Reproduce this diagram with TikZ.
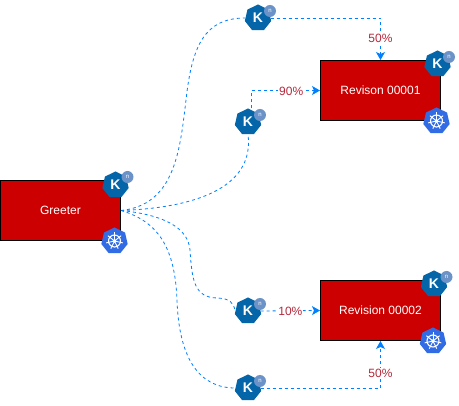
\documentclass[tikz,border=0pt]{standalone}
\usepackage{fontspec}
\setmainfont{Liberation Sans}
\usetikzlibrary{shapes.geometric,arrows.meta}
\definecolor{boxred}{HTML}{CC0000}
\definecolor{knblue}{HTML}{0465A9}
\definecolor{knlight}{HTML}{6C93C7}
\definecolor{kublue}{HTML}{326CE5}
\definecolor{flow}{HTML}{007FFF}
\definecolor{pct}{HTML}{B5293C}
\tikzset{
  svc/.style={draw=black,line width=1pt,fill=boxred,text=white,font=\fontsize{12}{14}\selectfont,minimum width=120pt,minimum height=60pt,inner sep=0pt},
  knicon/.style={regular polygon,regular polygon sides=7,fill=knblue,text=white,minimum size=27pt,inner sep=0pt,font=\fontsize{14}{14}\selectfont\bfseries},
  nbadge/.style={circle,fill=knlight,text=white,minimum size=12pt,inner sep=0pt,font=\fontsize{6}{6}\selectfont},
  kuicon/.style={regular polygon,regular polygon sides=7,fill=kublue,minimum size=27pt,inner sep=0pt},
  flowline/.style={draw=flow,line width=0.8pt,dash pattern=on 3pt off 3pt},
  flowarrow/.style={flowline,-{Stealth[length=8pt,width=9pt,inset=2pt]}},
  pctlabel/.style={fill=white,text=pct,inner sep=1pt,font=\fontsize{12}{14}\selectfont}
}
\newcommand{\kuwheel}[1]{%
  \draw[white,line width=1.1pt] (#1.center) circle (6pt);
  \fill[white] (#1.center) circle (1.8pt);
  \foreach \a in {90,141.43,...,400}{
    \draw[white,line width=0.9pt] (#1.center) -- ++(\a:8.5pt);
  }
}
\begin{document}
\begin{tikzpicture}[x=1pt,y=-1pt]
\useasboundingbox (0,0) rectangle (459,406);
\node[svc] (gr) at (60.5,210.5) {\raisebox{-1pt}{Greeter}};
\node[svc] (rev1) at (380.5,90.5) {\raisebox{-1pt}{Revison 00001}};
\node[svc] (rev2) at (380.5,310.5) {\raisebox{-1pt}{Revision 00002}};
% Knative icons on boxes
\node[knicon] (kg) at (115.5,185) {K};
\node[nbadge] (ng) at (127.5,177) {n};
\node[knicon] (k1) at (437.5,64) {K};
\node[nbadge] (n1) at (449,57) {n};
\node[knicon] (k2) at (434,284) {K};
\node[nbadge] (n2) at (446.5,277) {n};
% Kubernetes icons
\node[kuicon] (u0) at (114.5,241) {}; \kuwheel{u0}
\node[kuicon] (u1) at (436.5,121) {}; \kuwheel{u1}
\node[kuicon] (u2) at (433,341) {}; \kuwheel{u2}
% route icons
\node[knicon] (ka) at (258,18) {K};
\node[nbadge] (na) at (270,11) {n};
\node[knicon] (kb) at (248,122) {K};
\node[nbadge] (nb) at (260,115) {n};
\node[knicon] (kc) at (248,311) {K};
\node[nbadge] (nc) at (260,304) {n};
\node[knicon] (kd) at (248,388) {K};
\node[nbadge] (nd) at (260,381) {n};
% curves out of Greeter
\draw[flowline] (gr.east) .. controls (175,205) and (180,150) .. (186,100) .. controls (192,45) and (205,18) .. (ka.west);
\draw[flowline] (gr.east) .. controls (190,208) and (255,190) .. (kb.south);
\draw[flowline] (gr.east) .. controls (165,215) and (188,228) .. (190,250) .. controls (192,280) and (194,298) .. (218,298) .. controls (230,299) and (233,302) .. (kc.west);
\draw[flowline] (gr.east) .. controls (160,222) and (175,250) .. (177,300) .. controls (179,360) and (200,388) .. (kd.west);
% arrows to revisions
\draw[flowarrow] (ka.east) -| (rev1.north) node[pctlabel,pos=0.726,yshift=-1pt] (l1) {50\%};
\draw[flowarrow] ([xshift=3.5pt]kb.north) |- (rev1.west) node[pctlabel,pos=0.79,yshift=-1pt] (l2) {90\%};
\draw[flowarrow] (kc.east) -- (rev2.west) node[pctlabel,pos=0.5,yshift=-1pt] (l3) {10\%};
\draw[flowarrow] (kd.east) -| (rev2.south) node[pctlabel,pos=0.667,yshift=-1pt] (l4) {50\%};
\end{tikzpicture}
\end{document}
